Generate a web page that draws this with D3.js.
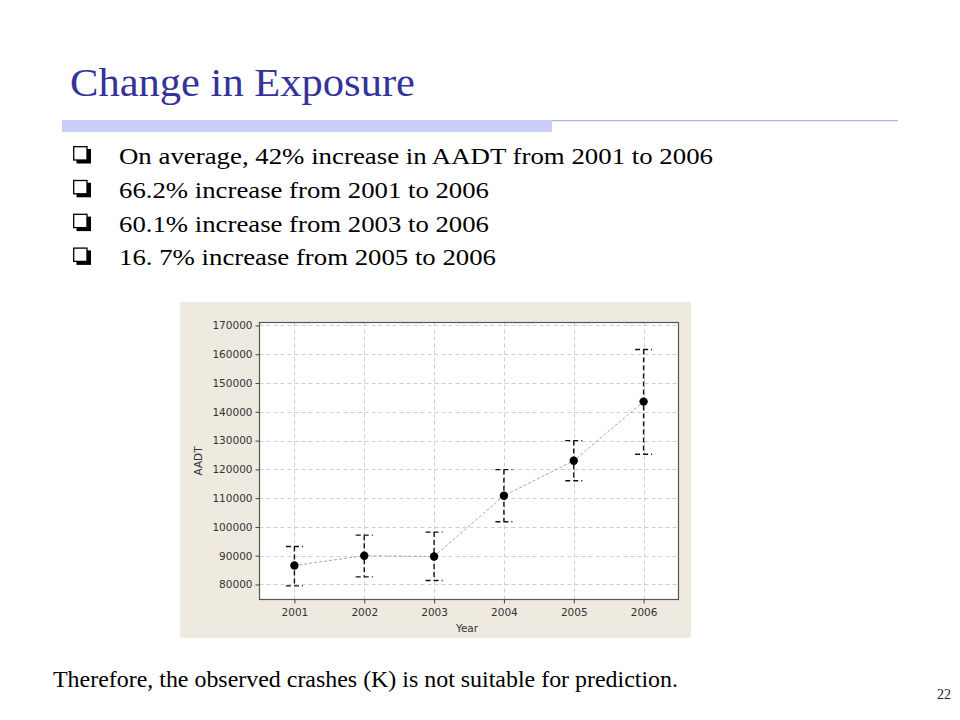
<!DOCTYPE html>
<html>
<head>
<meta charset="utf-8">
<script src="https://cdn.jsdelivr.net/npm/d3@7/dist/d3.min.js"></script>
<style>
  html, body { margin: 0; padding: 0; background: #ffffff; }
  svg { display: block; }
</style>
</head>
<body>
<svg id="slide" width="960" height="720"></svg>
<script>
// ---------- data ----------
const years = [2001, 2002, 2003, 2004, 2005, 2006];
const meanAADT = [86600, 90000, 89750, 110850, 123000, 143550];
const upperAADT = [93200, 97150, 98200, 119900, 130000, 161650];
const lowerAADT = [79500, 82650, 81400, 101800, 116050, 125250];
const yTicks = [80000, 90000, 100000, 110000, 120000, 130000, 140000, 150000, 160000, 170000];
const titleText = "Change in Exposure";
const bullets = [
  "On average, 42% increase in AADT from 2001 to 2006",
  "66.2% increase from 2001 to 2006",
  "60.1% increase from 2003 to 2006",
  "16. 7% increase from 2005 to 2006"
];
const bulletWidths = [594, 370, 370, 377];
const footerText = "Therefore, the observed crashes (K) is not suitable for prediction.";
const pageNumber = "22";

// ---------- slide ----------
const svg = d3.select("#slide");
const serif = "'Liberation Serif', 'Times New Roman', serif";

svg.append("text")
  .attr("x", 70).attr("y", 96)
  .attr("font-family", serif).attr("font-size", 41)
  .attr("fill", "#333399")
  .attr("textLength", 345).attr("lengthAdjust", "spacingAndGlyphs")
  .text(titleText);

// title rule
svg.append("rect").attr("x", 62).attr("y", 120).attr("width", 490).attr("height", 12).attr("fill", "#ccccf8");
svg.append("rect").attr("x", 552).attr("y", 120).attr("width", 346).attr("height", 1.2).attr("fill", "#a9b6dc");

// bullets
const bg = svg.append("g");
bullets.forEach((t, i) => {
  const base = 164 + i * 33.8;
  // shadowed box bullet
  bg.append("rect").attr("x", 76.5).attr("y", base - 15).attr("width", 14.5).attr("height", 14.5).attr("fill", "#000");
  bg.append("rect").attr("x", 73.7).attr("y", base - 17.3).attr("width", 13.3).attr("height", 13.3)
    .attr("fill", "#fff").attr("stroke", "#000").attr("stroke-width", 1.3);
  bg.append("text")
    .attr("x", 119).attr("y", base)
    .attr("font-family", serif).attr("font-size", 24)
    .attr("fill", "#000")
    .attr("textLength", bulletWidths[i]).attr("lengthAdjust", "spacingAndGlyphs")
    .text(t);
});

svg.append("text")
  .attr("x", 53).attr("y", 687)
  .attr("font-family", serif).attr("font-size", 23)
  .attr("fill", "#000")
  .attr("textLength", 625).attr("lengthAdjust", "spacingAndGlyphs")
  .text(footerText);

svg.append("text")
  .attr("x", 951).attr("y", 699)
  .attr("text-anchor", "end")
  .attr("font-family", serif).attr("font-size", 14)
  .attr("fill", "#222")
  .text(pageNumber);

// ---------- chart ----------
const panel = { x: 180, y: 302, w: 511, h: 336 };
svg.append("rect").attr("x", panel.x).attr("y", panel.y).attr("width", panel.w).attr("height", panel.h).attr("fill", "#eeeae0");

const plot = { left: 259.5, right: 678.5, top: 322.5, bottom: 599.5 };
const x = d3.scaleLinear().domain([2000.5, 2006.5]).range([plot.left, plot.right]);
const y = d3.scaleLinear().domain([74780, 171040]).range([plot.bottom, plot.top]);

const chart = svg.append("g");
chart.append("rect").attr("x", plot.left).attr("y", plot.top)
  .attr("width", plot.right - plot.left).attr("height", plot.bottom - plot.top)
  .attr("fill", "#ffffff");

// grid
const grid = chart.append("g").attr("stroke", "#cfcfcf").attr("stroke-width", 1).attr("stroke-dasharray", "4,3");
grid.selectAll("line.h").data(yTicks).join("line")
  .attr("x1", plot.left).attr("x2", plot.right)
  .attr("y1", d => Math.round(y(d)) + 0.5).attr("y2", d => Math.round(y(d)) + 0.5);
grid.selectAll("line.v").data(years).join("line")
  .attr("y1", plot.top).attr("y2", plot.bottom)
  .attr("x1", d => Math.round(x(d)) + 0.5).attr("x2", d => Math.round(x(d)) + 0.5);

// axes
const axFont = "'DejaVu Sans', Verdana, sans-serif";
const yAxis = chart.append("g").attr("transform", `translate(${plot.left},0)`)
  .call(d3.axisLeft(y).tickValues(yTicks).tickSize(4).tickPadding(3).tickFormat(d3.format("d")));
const xAxis = chart.append("g").attr("transform", `translate(0,${plot.bottom})`)
  .call(d3.axisBottom(x).tickValues(years).tickSize(4).tickPadding(5).tickFormat(d3.format("d")));
[yAxis, xAxis].forEach(a => {
  a.select(".domain").remove();
  a.selectAll(".tick line").attr("stroke", "#444");
  a.selectAll(".tick text").attr("font-family", axFont).attr("font-size", 10.5).attr("fill", "#333");
});

// frame
chart.append("rect").attr("x", plot.left).attr("y", plot.top)
  .attr("width", plot.right - plot.left).attr("height", plot.bottom - plot.top)
  .attr("fill", "none").attr("stroke", "#555").attr("stroke-width", 1.2);

// axis labels
chart.append("text").attr("x", (plot.left + plot.right) / 2 - 2).attr("y", 632)
  .attr("text-anchor", "middle").attr("font-family", axFont).attr("font-size", 10.5).attr("fill", "#333").text("Year");
chart.append("text").attr("transform", `translate(202,${(plot.top + plot.bottom) / 2}) rotate(-90)`)
  .attr("text-anchor", "middle").attr("font-family", axFont).attr("font-size", 10.5).attr("fill", "#333").text("AADT");

// connect line
const line = d3.line().x((d, i) => x(years[i])).y(d => y(d));
chart.append("path").datum(meanAADT).attr("d", line)
  .attr("fill", "none").attr("stroke", "#a8a8a8").attr("stroke-width", 1).attr("stroke-dasharray", "3,2");

// error bars
const eb = chart.append("g").attr("stroke", "#111").attr("stroke-width", 1.4).attr("stroke-dasharray", "5,3");
years.forEach((yr, i) => {
  eb.append("line").attr("x1", x(yr)).attr("x2", x(yr)).attr("y1", y(upperAADT[i])).attr("y2", y(lowerAADT[i]));
  eb.append("line").attr("x1", x(yr) - 8.5).attr("x2", x(yr) + 8.5).attr("y1", y(upperAADT[i])).attr("y2", y(upperAADT[i]));
  eb.append("line").attr("x1", x(yr) - 8.5).attr("x2", x(yr) + 8.5).attr("y1", y(lowerAADT[i])).attr("y2", y(lowerAADT[i]));
});

// points
chart.selectAll("circle.pt").data(meanAADT).join("circle")
  .attr("cx", (d, i) => x(years[i])).attr("cy", d => y(d)).attr("r", 4.2)
  .attr("fill", "#000");
</script>
</body>
</html>
